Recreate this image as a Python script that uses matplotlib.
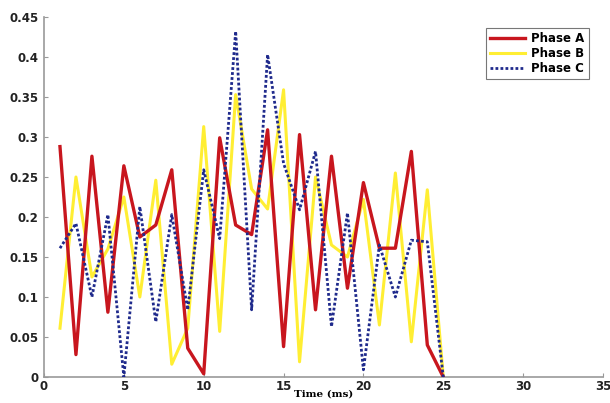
import matplotlib
matplotlib.use("Agg")
import matplotlib.pyplot as plt

t = list(range(1, 26))
phase_a = [0.288, 0.028, 0.276, 0.081, 0.264, 0.175, 0.19, 0.259, 0.036, 0.004,
           0.299, 0.19, 0.178, 0.309, 0.038, 0.303, 0.084, 0.276, 0.111, 0.243,
           0.161, 0.161, 0.282, 0.04, 0.0]
phase_b = [0.061, 0.25, 0.125, 0.16, 0.225, 0.1, 0.246, 0.016, 0.061, 0.313,
           0.057, 0.353, 0.235, 0.21, 0.359, 0.019, 0.25, 0.165, 0.15, 0.222,
           0.065, 0.255, 0.044, 0.234, 0.0]
phase_c = [0.161, 0.192, 0.1, 0.203, 0.0, 0.213, 0.069, 0.203, 0.084, 0.259,
           0.173, 0.432, 0.084, 0.403, 0.267, 0.209, 0.282, 0.063, 0.205, 0.009,
           0.165, 0.1, 0.171, 0.169, 0.0]
xticks = [0, 5, 10, 15, 20, 25, 30, 35]
yticks = [0, 0.05, 0.1, 0.15, 0.2, 0.25, 0.3, 0.35, 0.4, 0.45]
ytick_labels = ["0", "0.05", "0.1", "0.15", "0.2", "0.25", "0.3", "0.35", "0.4", "0.45"]

fig = plt.figure(figsize=(6.10, 4.03), dpi=100)
ax = fig.add_axes([44/610, 1 - 377/403, (603-44)/610, (377-17)/403])

ax.plot(t, phase_a, color="#c8161e", lw=2.4, label="Phase A", zorder=3)
ax.plot(t, phase_b, color="#ffee33", lw=2.2, label="Phase B", zorder=2)
ax.plot(t, phase_c, color="#1f2a8c", lw=2.0, ls=(0, (1, 0.8)), label="Phase C", zorder=4)

ax.set_xlim(0, 35)
ax.set_ylim(0, 0.45)
ax.set_xticks(xticks)
ax.set_xticklabels([str(v) for v in xticks])
ax.set_yticks(yticks)
ax.set_yticklabels(ytick_labels)
ax.tick_params(direction="in", length=3, color="#999999", labelsize=8.5, pad=4)
ax.tick_params(axis="x", pad=2.5)
for lab in ax.get_xticklabels() + ax.get_yticklabels():
    lab.set_fontweight("bold")
    lab.set_color("#222222")
for s in ["top", "right"]:
    ax.spines[s].set_visible(False)
for s in ["left", "bottom"]:
    ax.spines[s].set_color("#999999")
    ax.spines[s].set_linewidth(1.2)

ax.set_xlabel("Time (ms)", fontsize=7.5, fontweight="bold", family="DejaVu Serif", labelpad=-2.5)

leg = ax.legend(loc="upper right", bbox_to_anchor=(0.985, 0.985),
                prop={"weight": "bold", "size": 8.5}, frameon=True, fancybox=False,
                handlelength=3.0, borderpad=0.35, labelspacing=0.15, handletextpad=0.5)
leg.get_frame().set_edgecolor("#555555")
leg.get_frame().set_linewidth(0.8)

fig.savefig("out.png", dpi=100)
